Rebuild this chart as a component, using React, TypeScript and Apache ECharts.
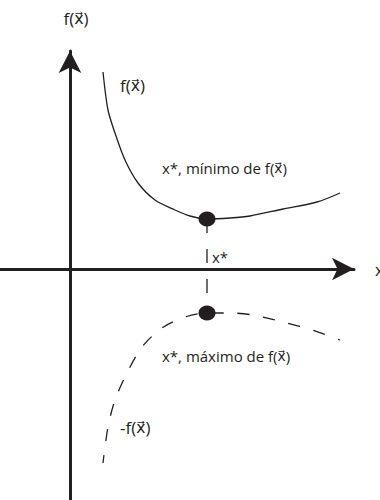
import React, { useEffect, useRef } from "react";
import * as echarts from "echarts";

// Coordinates measured relative to the axes' origin (x to the right, y upward)
const upperX = [33, 38, 45, 55, 68, 85, 105, 120, 137, 160, 180, 213, 247, 270];
const upperY = [197, 159, 136, 109, 86, 69, 59, 53, 50, 51, 53, 60, 67, 76];
const lowerX = [33, 38, 45, 57, 72, 92, 115, 137, 160, 183, 213, 242, 270];
const lowerY = [-194, -158, -131, -104, -78, -59, -48, -44, -44, -46, -53, -61, -71];
const xStar = 137;
const fMin = 50;
const negMax = -44;
const xDomain = [-70, 284];
const yDomain = [-231, 218];

const VEC = "{v|x\u20D7}";
const axisXName = "x";
const axisYName = `f(${VEC})`;
const upperName = `f(${VEC})`;
const lowerName = `-f(${VEC})`;
const minLabel = `x*, mínimo de f(${VEC})`;
const maxLabel = `x*, máximo de f(${VEC})`;
const xStarLabel = "x*";

const INK = "#231f20";
const FONT = '"Open Sans", "Noto Sans", sans-serif';
const VFONT = '"DejaVu Sans", sans-serif';

export default function App() {
  const ref = useRef<HTMLDivElement>(null);
  useEffect(() => {
    if (!ref.current) return;
    const chart = echarts.init(ref.current, null, { renderer: "svg" });
    const upper = upperX.map((x, i) => [x, upperY[i]]);
    const lower = lowerX.map((x, i) => [x, lowerY[i]]);
    const txt = (text: string, x: number, y: number, size: number) => ({
      type: "text",
      x,
      y,
      silent: true,
      style: {
        text,
        fill: INK,
        fontSize: size,
        fontFamily: FONT,
        align: "left",
        verticalAlign: "middle",
        rich: {
          v: { fontSize: size * 0.92, fontFamily: VFONT, fill: INK },
        },
      },
    });
    chart.setOption({
      animation: false,
      backgroundColor: "#ffffff",
      grid: {
        left: 0,
        top: 51,
        right: 26,
        bottom: 0,
        containLabel: false,
        outerBoundsMode: "none",
      },
      xAxis: {
        type: "value",
        min: xDomain[0],
        max: xDomain[1],
        axisLine: {
          onZero: true,
          lineStyle: { color: INK, width: 3 },
          symbol: ["none", "arrow"],
          symbolSize: [17, 22],
        },
        axisTick: { show: false },
        axisLabel: { show: false },
        splitLine: { show: false },
        name: axisXName,
        nameLocation: "end",
        nameGap: 21,
        nameTextStyle: {
          color: INK,
          fontSize: 17,
          fontFamily: FONT,
          align: "left",
          verticalAlign: "middle",
        },
      },
      yAxis: {
        type: "value",
        min: yDomain[0],
        max: yDomain[1],
        axisLine: {
          onZero: true,
          lineStyle: { color: INK, width: 3 },
          symbol: ["none", "arrow"],
          symbolSize: [17, 22],
        },
        axisTick: { show: false },
        axisLabel: { show: false },
        splitLine: { show: false },
        name: axisYName,
        nameLocation: "end",
        nameGap: 33,
        nameTextStyle: {
          color: INK,
          fontSize: 17,
          fontFamily: FONT,
          align: "center",
          verticalAlign: "middle",
          padding: [0, 0, 0, 12],
          rich: {
            v: { fontSize: 16, fontFamily: VFONT, color: INK },
          },
        },
      },
      series: [
        {
          type: "line",
          data: upper,
          smooth: 0.3,
          showSymbol: false,
          silent: true,
          lineStyle: { color: INK, width: 1.3 },
          z: 3,
        },
        {
          type: "line",
          data: lower,
          smooth: 0.3,
          showSymbol: false,
          silent: true,
          lineStyle: { color: INK, width: 1.3, type: [12, 14], dashOffset: 4 },
          z: 3,
        },
        {
          type: "line",
          data: [
            [xStar, fMin],
            [xStar, negMax],
          ],
          showSymbol: false,
          silent: true,
          lineStyle: { color: INK, width: 1.3, type: [14, 16] },
          z: 3,
        },
        {
          type: "scatter",
          data: [
            [xStar, fMin],
            [xStar, negMax],
          ],
          symbol: "circle",
          symbolSize: [17, 15],
          itemStyle: { color: INK, opacity: 1 },
          silent: true,
          z: 5,
        },
      ],
      graphic: [
        txt(upperName, 120, 85, 17),
        txt(minLabel, 162, 168, 15),
        txt(xStarLabel, 212, 257, 15),
        txt(maxLabel, 162, 356, 15),
        txt(lowerName, 120, 427, 17),
      ],
    });
    return () => chart.dispose();
  }, []);
  return (
    <div
      ref={ref}
      style={{ position: "absolute", left: 0, top: 0, width: 380, height: 500 }}
    />
  );
}
